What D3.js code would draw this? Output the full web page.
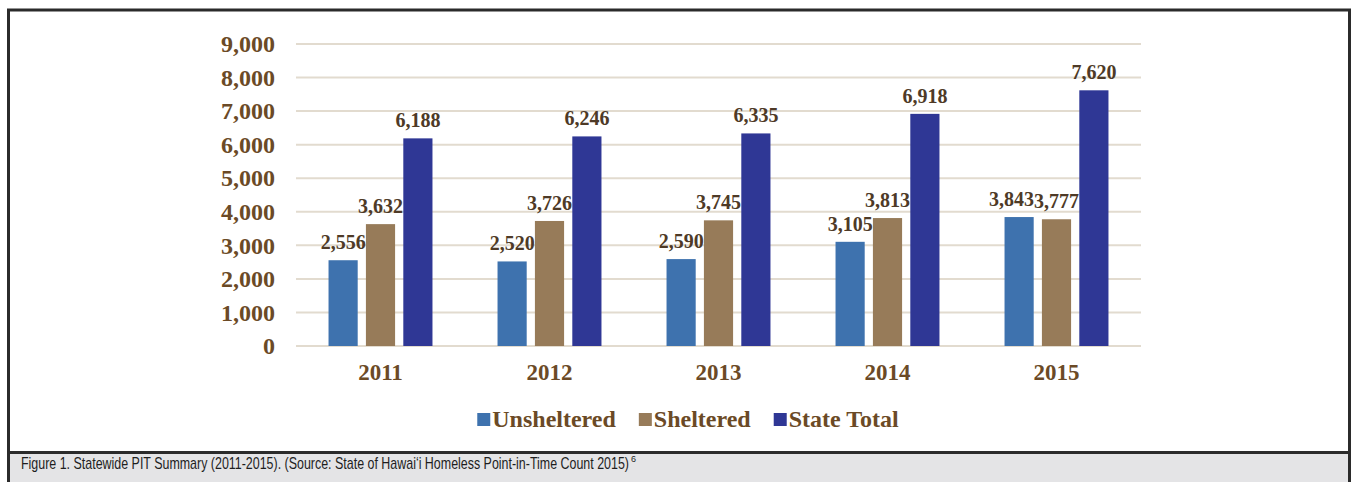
<!DOCTYPE html>
<html>
<head>
<meta charset="utf-8">
<script src="https://cdn.jsdelivr.net/npm/d3@7"></script>
<style>
  body { margin: 0; background: #fff; }
  svg { display: block; }
</style>
</head>
<body>
<div id="chart"></div>
<script>
// data
var years = ["2011", "2012", "2013", "2014", "2015"];
var seriesNames = ["Unsheltered", "Sheltered", "State Total"];
var unsheltered = [2556, 2520, 2590, 3105, 3843];
var sheltered = [3632, 3726, 3745, 3813, 3777];
var stateTotal = [6188, 6246, 6335, 6918, 7620];
var yTicks = [0, 1000, 2000, 3000, 4000, 5000, 6000, 7000, 8000, 9000];
var colors = ["#3e72ae", "#977b59", "#2f3795"];

var W = 1351, H = 482;
var serif = "'Liberation Serif', 'Times New Roman', serif";
var tickColor = "#6b4a26";
var labelColor = "#4e3a27";

var svg = d3.select("#chart").append("svg")
  .attr("width", W).attr("height", H);

// frame + caption strip
svg.append("rect")
  .attr("x", 8).attr("y", 452).attr("width", W - 8).attr("height", 30)
  .attr("fill", "#e4e4e6");
svg.append("rect")
  .attr("x", 8.5).attr("y", 10).attr("width", W - 10).attr("height", 480)
  .attr("fill", "none").attr("stroke", "#2b2b2b").attr("stroke-width", 3);
svg.append("line")
  .attr("x1", 8).attr("x2", W).attr("y1", 452.5).attr("y2", 452.5)
  .attr("stroke", "#2b2b2b").attr("stroke-width", 3);

var y = d3.scaleLinear().domain([0, 9000]).range([346, 44]);

var x0 = d3.scaleBand().domain(years).range([296, 1141])
  .paddingInner(0.385).paddingOuter(0.1925);

var x1 = d3.scaleBand().domain(seriesNames).range([0, x0.bandwidth()])
  .paddingInner(0.22).paddingOuter(0);

// gridlines
svg.append("g").selectAll("line")
  .data(yTicks)
  .enter().append("line")
  .attr("x1", 296).attr("x2", 1141)
  .attr("y1", function(d) { return y(d); })
  .attr("y2", function(d) { return y(d); })
  .attr("stroke", "#e2dbcf").attr("stroke-width", 2);

// y axis labels
var yAxis = d3.axisLeft(y).tickValues(yTicks).tickSize(0).tickPadding(0)
  .tickFormat(d3.format(","));
var ya = svg.append("g").attr("transform", "translate(275,0)").call(yAxis);
ya.select(".domain").remove();
ya.selectAll("text")
  .style("font-family", serif).style("font-size", "24px")
  .style("font-weight", "bold").attr("fill", tickColor);

// x axis labels
var xAxis = d3.axisBottom(x0).tickSize(0).tickPadding(0);
var xa = svg.append("g").attr("transform", "translate(0,364)").call(xAxis);
xa.select(".domain").remove();
xa.selectAll("text")
  .style("font-family", serif).style("font-size", "23px")
  .style("font-weight", "bold").attr("fill", tickColor);

var rows = years.map(function(yr, i) {
  return { year: yr, values: [unsheltered[i], sheltered[i], stateTotal[i]] };
});

var groups = svg.selectAll(".grp")
  .data(rows)
  .enter().append("g")
  .attr("class", "grp")
  .attr("transform", function(d) { return "translate(" + x0(d.year) + ",0)"; });

var cells = function(d) {
  return d.values.map(function(v, j) { return { name: seriesNames[j], value: v, idx: j }; });
};

groups.selectAll("rect")
  .data(cells)
  .enter().append("rect")
  .attr("x", function(d) { return x1(d.name); })
  .attr("width", x1.bandwidth())
  .attr("y", function(d) { return y(d.value); })
  .attr("height", function(d) { return y(0) - y(d.value); })
  .attr("fill", function(d) { return colors[d.idx]; });

groups.selectAll("text.val")
  .data(cells)
  .enter().append("text")
  .attr("class", "val")
  .attr("x", function(d) { return x1(d.name) + x1.bandwidth() / 2; })
  .attr("y", function(d) { return y(d.value) - 11; })
  .attr("text-anchor", "middle")
  .style("font-family", serif).style("font-size", "20px")
  .style("font-weight", "bold").attr("fill", labelColor)
  .text(function(d) { return d3.format(",")(d.value); });

// nudge a label left when it runs into its neighbour at about the same height
groups.each(function() {
  var labels = d3.select(this).selectAll("text.val").nodes();
  for (var j = labels.length - 2; j >= 0; j--) {
    var a = labels[j].getBBox(), b = labels[j + 1].getBBox();
    var vOverlap = a.y < b.y + b.height && b.y < a.y + a.height;
    var over = a.x + a.width - b.x;
    if (vOverlap && over > 0) {
      labels[j].setAttribute("x", +labels[j].getAttribute("x") - over);
    }
  }
});

// legend
var legend = svg.append("g").attr("transform", "translate(0,427)");
var lx = 0;
var items = legend.selectAll("g")
  .data(seriesNames)
  .enter().append("g");
items.append("rect")
  .attr("y", -14).attr("width", 13).attr("height", 13)
  .attr("fill", function(d, i) { return colors[i]; });
items.append("text")
  .attr("x", 15)
  .style("font-family", serif).style("font-size", "24px")
  .style("font-weight", "bold").attr("fill", tickColor)
  .text(function(d) { return d; });
items.each(function() {
  var g = d3.select(this);
  g.attr("transform", "translate(" + lx + ",0)");
  lx += 15 + g.select("text").node().getComputedTextLength() + 23;
});
lx -= 23;
legend.attr("transform", "translate(" + (688 - lx / 2) + ",427)");

// caption, footnote mark as a raised tspan
var caption = svg.append("text")
  .attr("x", 21).attr("y", 469)
  .style("font-family", "'Liberation Sans', Arial, sans-serif")
  .attr("fill", "#1e1e1e");
caption.append("tspan")
  .attr("textLength", 608).attr("lengthAdjust", "spacingAndGlyphs")
  .style("font-size", "17px")
  .text("Figure 1. Statewide PIT Summary (2011-2015). (Source: State of Hawai\u2018i Homeless Point-in-Time Count 2015)");
caption.append("tspan")
  .attr("dx", 2).attr("dy", -7)
  .style("font-size", "9px")
  .text("6");
</script>
</body>
</html>
